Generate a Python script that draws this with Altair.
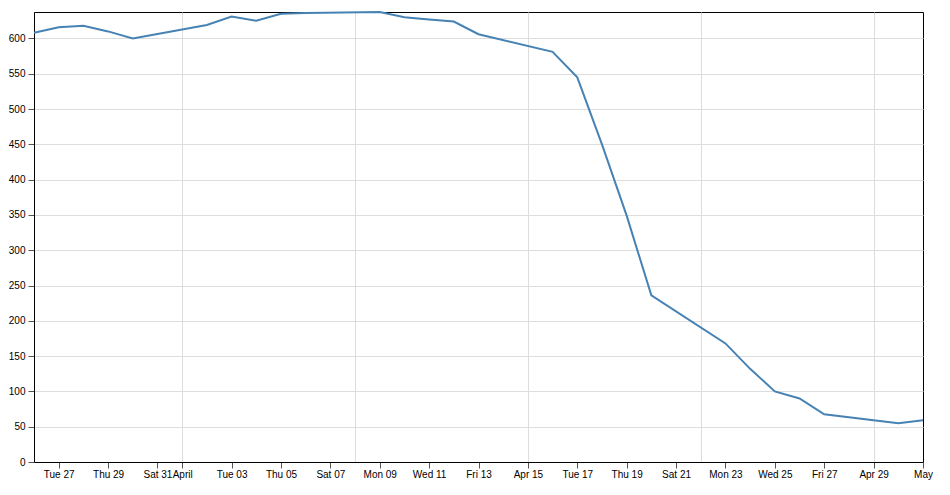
import altair as alt
import pandas as pd

dates = [
    "2018-03-26", "2018-03-27", "2018-03-28", "2018-03-29", "2018-03-30",
    "2018-04-02", "2018-04-03", "2018-04-04", "2018-04-05", "2018-04-06",
    "2018-04-09", "2018-04-10", "2018-04-11", "2018-04-12", "2018-04-13",
    "2018-04-16", "2018-04-17", "2018-04-18", "2018-04-19", "2018-04-20",
    "2018-04-23", "2018-04-24", "2018-04-25", "2018-04-26", "2018-04-27",
    "2018-04-30", "2018-05-01",
]
values = [
    608, 616, 618, 610, 600,
    619, 631, 625, 635, 636,
    637.5, 630, 627, 624, 606,
    581, 545, 450, 349, 236,
    168, 132, 100, 90, 67.5,
    55, 59,
]
y_ticks = [0, 50, 100, 150, 200, 250, 300, 350, 400, 450, 500, 550, 600]

df = pd.DataFrame({"date": [d + "T00:00:00" for d in dates], "value": values})

FONT = "Liberation Sans"

base = alt.Chart(df)

y_enc = alt.Y(
    "value:Q",
    title=None,
    scale=alt.Scale(zero=True, nice=False),
    axis=alt.Axis(
        values=y_ticks,
        grid=True,
        gridColor="#dddddd",
        gridWidth=1,
        domainColor="#000000",
        domainWidth=1,
        tickColor="#555555",
        tickSize=6,
        labelPadding=3,
        labelFont=FONT,
        labelFontSize=10,
        labelColor="#000000",
        minExtent=23,
        maxExtent=23,
    ),
)

line = base.mark_line(color="#4682b4", strokeWidth=2).encode(
    x=alt.X(
        "date:T",
        title=None,
        axis=alt.Axis(
            orient="bottom",
            tickCount={"interval": "day", "step": 2},
            grid=False,
            domainColor="#000000",
            domainWidth=1,
            tickColor="#555555",
            tickSize=6,
            labelPadding=1,
            labelFont=FONT,
            labelFontSize=10,
            labelColor="#000000",
            labelOverlap=False,
            labelFlush=False,
        ),
    ),
    y=y_enc,
)

grid = base.mark_line(strokeOpacity=0).encode(
    x=alt.X(
        "date:T",
        title=None,
        axis=alt.Axis(
            orient="top",
            tickCount={"interval": "week", "step": 1},
            grid=True,
            gridColor="#dddddd",
            gridWidth=1,
            labels=False,
            ticks=False,
            domain=False,
            minExtent=0,
            maxExtent=0,
            offset=0,
        ),
    ),
    y=y_enc,
)

chart = (
    alt.layer(grid, line)
    .resolve_axis(x="independent")
    .properties(
        width=889,
        height=450,
        padding={"left": 0, "top": 0, "right": 0, "bottom": 2},
        background="#ffffff",
    )
    .configure_view(stroke="#000000", strokeWidth=1)
)

chart.save("out.html", embed_options={"renderer": "svg", "actions": False})
